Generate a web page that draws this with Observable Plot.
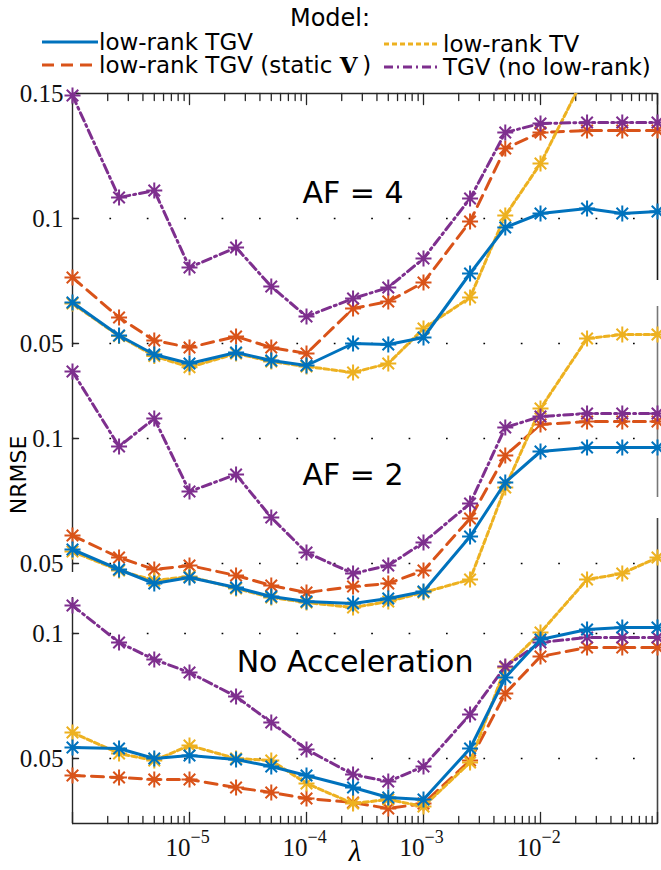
<!DOCTYPE html>
<html><head><meta charset="utf-8">
<script src="https://cdn.jsdelivr.net/npm/d3@7"></script>
<script src="https://cdn.jsdelivr.net/npm/@observablehq/plot@0.6"></script>
<style>
body{margin:0;background:#fff;}
#wrap{position:relative;width:661px;height:870px;overflow:hidden;background:#fff;font-family:"DejaVu Sans",sans-serif;color:#000;}
#wrap > svg{position:absolute;left:0;top:0;}
.lg{position:absolute;font-size:23px;line-height:23px;white-space:nowrap;}
.sw{position:absolute;}
</style>
</head><body><div id="wrap"></div>
<script>
// ---- data ----
const lambda = [1e-6,2.5e-6,5e-6,1e-5,2.5e-5,5e-5,1e-4,2.5e-4,5e-4,1e-3,2.5e-3,5e-3,1e-2,2.5e-2,5e-2,1e-1];
const models = ["low-rank TGV","low-rank TGV (static V)","low-rank TV","TGV (no low-rank)"];
const xTickLabels = [1e-5,1e-4,1e-3,1e-2];
const xMajorTicks = [1e-6,1e-5,1e-4,1e-3,1e-2,1e-1];
const yTicksAF4 = [0.05,0.1,0.15];
const yTicksAF2 = [0.05,0.1];
const yTicksNoAcc = [0.05,0.1];
const panelLabels = ["AF = 4","AF = 2","No Acceleration"];

// AF = 4
const af4LowRankTGV = [0.0664,0.0532,0.0456,0.042,0.0464,0.0432,0.0412,0.050,0.0496,0.0524,0.078,0.0964,0.102,0.104,0.102,0.1028];
const af4StaticV    = [0.0764,0.0604,0.0512,0.0484,0.0528,0.0484,0.046,0.064,0.0668,0.0744,0.0988,0.128,0.1344,0.1352,0.1352,0.1352];
const af4LowRankTV  = [0.066,0.053,0.045,0.0405,0.046,0.0428,0.0408,0.0384,0.042,0.056,0.0684,0.1012,0.122,0.159,0.165,0.17];
const af4NoLowRank  = [0.1492,0.1084,0.1112,0.0804,0.0884,0.0728,0.0608,0.068,0.0724,0.084,0.108,0.1344,0.138,0.1384,0.1384,0.1384];
// AF = 2
const af2LowRankTGV = [0.0556,0.0476,0.042,0.0444,0.0404,0.0368,0.0348,0.034,0.036,0.0388,0.0608,0.0824,0.0948,0.0964,0.0964,0.0964];
const af2StaticV    = [0.0612,0.0524,0.0476,0.0492,0.0452,0.0412,0.0384,0.0408,0.042,0.0472,0.068,0.0932,0.1056,0.1068,0.1068,0.1068];
const af2LowRankTV  = [0.0548,0.0472,0.0432,0.0448,0.04,0.0364,0.0344,0.0324,0.0348,0.0384,0.0436,0.0804,0.112,0.14,0.1416,0.1416];
const af2NoLowRank  = [0.1268,0.0968,0.108,0.0788,0.0856,0.0684,0.0544,0.046,0.0492,0.0584,0.074,0.1044,0.1088,0.11,0.11,0.11];
// No acceleration
const noAccLowRankTGV = [0.0544,0.054,0.05,0.0512,0.0496,0.0468,0.0432,0.0384,0.0344,0.0336,0.054,0.0824,0.0976,0.1016,0.1024,0.1024];
const noAccStaticV    = [0.0432,0.0424,0.0416,0.0416,0.0384,0.0364,0.034,0.0324,0.03,0.032,0.0492,0.076,0.0908,0.0944,0.0944,0.0944];
const noAccLowRankTV  = [0.0604,0.052,0.0492,0.0552,0.05,0.0492,0.04,0.032,0.0336,0.0308,0.0484,0.0864,0.1004,0.1216,0.124,0.1304];
const noAccNoLowRank  = [0.1112,0.0964,0.0896,0.0844,0.0748,0.0644,0.0536,0.0436,0.0408,0.0468,0.0676,0.0868,0.0964,0.0984,0.0984,0.0984];

// ---- styles ----
const styles = {
  "low-rank TGV": {color:"#0072BD", dash:null},
  "low-rank TGV (static V)": {color:"#D95319", dash:"12,7"},
  "low-rank TV": {color:"#EDB120", dash:"5,3"},
  "TGV (no low-rank)": {color:"#7E2F8E", dash:"9,4,2,4"}
};
const drawOrder = ["low-rank TGV (static V)","low-rank TV","TGV (no low-rank)","low-rank TGV"];
const axisColor = "#262626";
const serif = "'Liberation Serif', 'DejaVu Serif', serif";
const lineW = 3;

const asterisk = {draw(ctx, size){
  const r = Math.sqrt(size/Math.PI), d = r*0.72;
  ctx.moveTo(-r,0); ctx.lineTo(r,0);
  ctx.moveTo(0,-r); ctx.lineTo(0,r);
  ctx.moveTo(-d,-d); ctx.lineTo(d,d);
  ctx.moveTo(-d,d); ctx.lineTo(d,-d);
}};
const tickShape = {draw(ctx, l){ ctx.moveTo(0,0); ctx.lineTo(0,-l); }};
const xMinorTicks = d3.range(-6,-1).flatMap(e => d3.range(2,10).map(k => k*Math.pow(10,e)));

function tidy(series){
  return series.flatMap((arr,k) => arr.map((v,i) => ({lambda: lambda[i], nrmse: v, model: models[k]})));
}

function panel(cfg){
  const data = tidy(cfg.series);
  const marks = [];
  marks.push(Plot.ruleY(cfg.grid, {x1: () => 1e-6, x2: () => 1e-1, stroke:"#000", strokeWidth:1.7, strokeDasharray:"1.7,35.7"}));
  marks.push(Plot.ruleX([1e-6], {y1: () => cfg.leftLim[0], y2: () => cfg.leftLim[1], stroke:axisColor, strokeWidth:1.4}));
  marks.push(Plot.ruleX([1e-1], {y1: () => cfg.rightLim[0], y2: () => cfg.rightLim[1], stroke:cfg.rightColor, strokeWidth:1.6}));
  marks.push(Plot.vector(cfg.yTicks, {x: () => 1e-6, y: d => d, length: 6, rotate: 90, anchor:"start", shape: tickShape, stroke:axisColor, strokeWidth:1.4}));
  marks.push(Plot.text(cfg.yTicks, {x: () => 1e-6, y: d => d, text: d => String(d), textAnchor:"end", dx:-9, fontFamily:serif, fontSize:25, fill:"#111"}));
  if (cfg.xAxis) {
    const a = cfg.xAxis;
    marks.push(Plot.ruleY([a.at], {x1: () => 1e-6, x2: () => 1e-1, stroke:axisColor, strokeWidth:1.4}));
    marks.push(Plot.vector(xMajorTicks, {x: d => d, y: () => a.at, length: 11, rotate: a.rotate, anchor:"start", shape: tickShape, stroke:axisColor, strokeWidth:1.3}));
    marks.push(Plot.vector(xMinorTicks, {x: d => d, y: () => a.at, length: 7, rotate: a.rotate, anchor:"start", shape: tickShape, stroke:axisColor, strokeWidth:1.3}));
    if (a.labels) {
      marks.push(Plot.text(xTickLabels, {x: d => d, y: () => a.at, text: () => "10", textAnchor:"end", dx:1, dy:24, fontFamily:serif, fontSize:25, fill:"#111"}));
      marks.push(Plot.text(xTickLabels, {x: d => d, y: () => a.at, text: d => "\u2212" + String(-Math.round(Math.log10(d))), textAnchor:"start", dx:1, dy:14, fontFamily:serif, fontSize:18, fill:"#111"}));
    }
  }
  marks.push(Plot.text([cfg.label], {x: () => cfg.labelAt[0], y: () => cfg.labelAt[1], text: d => d, fontFamily:"'DejaVu Sans', sans-serif", fontSize:30, fill:"#000"}));
  for (const m of drawOrder) {
    const s = styles[m];
    marks.push(Plot.line(data, {filter: d => d.model === m, x:"lambda", y:"nrmse", stroke:s.color, strokeWidth:lineW, strokeDasharray:s.dash, clip: cfg.clip}));
    marks.push(Plot.dot(data, {filter: d => d.model === m && d.nrmse <= cfg.visibleMax, x:"lambda", y:"nrmse", symbol: asterisk, r:8, stroke:s.color, strokeWidth:2, fill:"none"}));
  }
  return Plot.plot({
    width:661, height:870,
    marginTop: cfg.marginTop, marginLeft:0, marginRight:0, marginBottom:0,
    x:{type:"log", domain:[1e-6,1e-1], range:[72,657], axis:null},
    y:{domain: cfg.yDomain, range: cfg.yRange, axis:null},
    style:{background:"transparent", overflow:"visible"},
    marks
  });
}

const wrap = document.getElementById("wrap");

wrap.append(panel({
  series:[af4LowRankTGV, af4StaticV, af4LowRankTV, af4NoLowRank],
  yDomain:[0.05,0.15], yRange:[343,93], marginTop:93, clip:"frame", visibleMax:0.1505,
  grid:[0.05,0.1], yTicks:yTicksAF4, leftLim:[0.0484,0.15], rightLim:[0.0752,0.15], rightColor:"#1a1a1a",
  xAxis:{at:0.15, rotate:180, labels:false},
  label:panelLabels[0], labelAt:[2.5e-4,0.11]
}));
wrap.append(panel({
  series:[af2LowRankTGV, af2StaticV, af2LowRankTV, af2NoLowRank],
  yDomain:[0.05,0.1], yRange:[563,438], marginTop:0, clip:false, visibleMax:1,
  grid:[0.05,0.1], yTicks:yTicksAF2, leftLim:[0.0464,0.1272], rightLim:[0.0764,0.1528], rightColor:"#777",
  xAxis:null,
  label:panelLabels[1], labelAt:[2.5e-4,0.0852]
}));
wrap.append(panel({
  series:[noAccLowRankTGV, noAccStaticV, noAccLowRankTV, noAccNoLowRank],
  yDomain:[0.05,0.1], yRange:[758,633], marginTop:0, clip:false, visibleMax:1,
  grid:[0.05,0.1], yTicks:yTicksNoAcc, leftLim:[0.024,0.1144], rightLim:[0.024,0.146], rightColor:"#444",
  xAxis:{at:0.024, rotate:0, labels:true},
  label:panelLabels[2], labelAt:[2.6e-4,0.0884]
}));

// ---- axis titles ----
function addText(txt, css){ const d = document.createElement("div"); d.className="lg"; d.textContent = txt; Object.assign(d.style, css); wrap.append(d); return d; }
addText("NRMSE", {left:"19px", top:"475px", fontSize:"22px", lineHeight:"22px", transform:"translate(-50%,-50%) rotate(-90deg)"});
addText("\u03bb", {left:"355px", top:"851px", fontSize:"29px", lineHeight:"29px", fontFamily:serif, fontStyle:"italic", transform:"translate(-50%,-50%)"});

// ---- legend ----
addText("Model:", {left:"330px", top:"18px", fontSize:"24px", lineHeight:"24px", transform:"translate(-50%,-50%)"});
const legendPos = [
  {model:models[0], sx:42, tx:99, y:42},
  {model:models[1], sx:42, tx:99, y:65},
  {model:models[2], sx:384, tx:443, y:44},
  {model:models[3], sx:384, tx:443, y:67}
];
for (const p of legendPos) {
  const s = styles[p.model];
  const svg = d3.create("svg").attr("class","sw").attr("width",58).attr("height",10)
    .style("left", p.sx+"px").style("top", (p.y-5)+"px");
  svg.append("line").attr("x1",0).attr("x2",56).attr("y1",5).attr("y2",5)
    .attr("stroke", s.color).attr("stroke-width",lineW).attr("stroke-dasharray", s.dash);
  wrap.append(svg.node());
  const t = addText("", {left:p.tx+"px", top:p.y+"px", lineHeight:"21px", transform:"translateY(-50%)"});
  if (p.model === models[1]) {
    t.innerHTML = "low-rank TGV (static <b style=\"font-family:'DejaVu Serif',serif\">V</b>&#8201;)";
  } else t.textContent = p.model;
}
</script>
</body></html>
